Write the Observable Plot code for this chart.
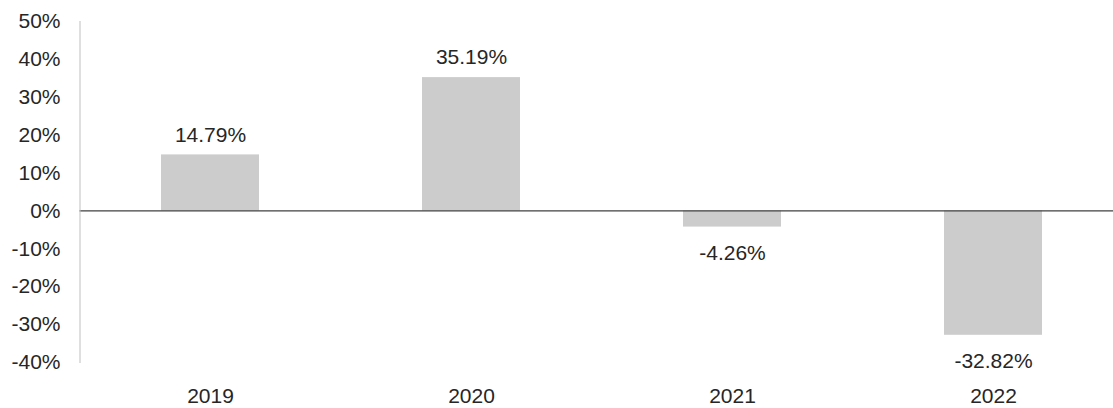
<!DOCTYPE html>
<html>
<head>
<meta charset="utf-8">
<script src="https://cdn.jsdelivr.net/npm/d3@7"></script>
<script src="https://cdn.jsdelivr.net/npm/@observablehq/plot@0.6"></script>
<style>
  html, body { margin: 0; padding: 0; background: #fff; }
</style>
</head>
<body>
<div id="chart"></div>
<script>
const years = ["2019", "2020", "2021", "2022"];
const returns = [14.79, 35.19, -4.26, -32.82];
const yTicks = [-40, -30, -20, -10, 0, 10, 20, 30, 40, 50];

const data = years.map((year, i) => ({year, value: returns[i]}));

const chart = Plot.plot({
  width: 1113,
  height: 408,
  marginLeft: 79.5,
  marginRight: -10.5,
  marginTop: 21,
  marginBottom: 46,
  style: {fontFamily: "'Liberation Sans', Arial, sans-serif", fontSize: "21px", color: "#262626", background: "#fff"},
  x: {type: "band", domain: years, paddingInner: 0.625, paddingOuter: 0.3125},
  y: {domain: [-40, 50]},
  marks: [
    Plot.barY(data, {x: "year", y: "value", fill: "#cccccc"}),
    Plot.ruleY([0], {stroke: "#404040", strokeWidth: 1.3}),
    Plot.frame({anchor: "left", stroke: "#bfbfbf"}),
    Plot.axisY(yTicks, {tickSize: 0, tickPadding: 19.5, tickFormat: d => d + "%", label: null, fill: "#262626"}),
    Plot.axisX({tickSize: 0, tickPadding: 26, label: null, fill: "#262626"}),
    Plot.text(data.filter(d => d.value >= 0), {x: "year", y: "value", text: d => d.value.toFixed(2) + "%", dy: -20, fill: "#262626"}),
    Plot.text(data.filter(d => d.value < 0), {x: "year", y: "value", text: d => d.value.toFixed(2) + "%", dy: 26, fill: "#262626"})
  ]
});
document.getElementById("chart").appendChild(chart);
</script>
</body>
</html>
